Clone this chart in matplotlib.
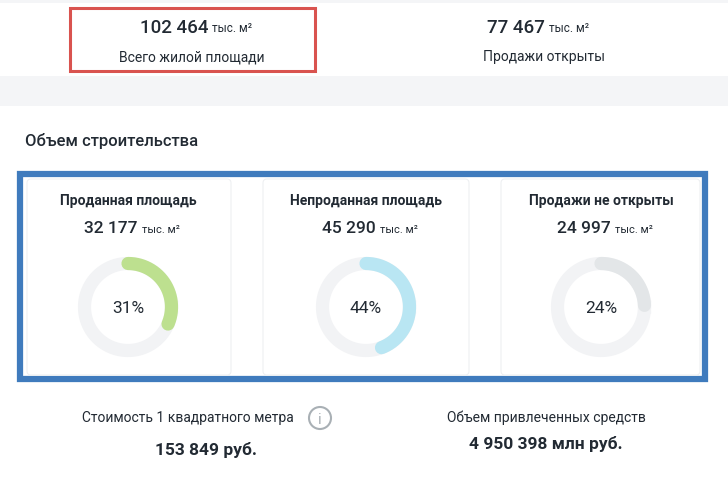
import matplotlib
matplotlib.use("Agg")
import matplotlib.pyplot as plt
from matplotlib.patches import Rectangle, FancyBboxPatch, Circle
import numpy as np

total_value = 102464
open_value = 77467
categories = ["Проданная площадь", "Непроданная площадь", "Продажи не открыты"]
values = [32177, 45290, 24997]
arc_colors = ["#bde08f", "#b9e6f3", "#e3e6e8"]
price_value = "153 849 руб."
funds_value = "4 950 398 млн руб."

def fmt(v):
    return f"{v:,}".replace(",", " ")

plt.rcParams["font.family"] = "Roboto"
fig = plt.figure(figsize=(7.28, 4.85), dpi=100)
ax = fig.add_axes([0, 0, 1, 1])
ax.set_xlim(0, 728); ax.set_ylim(485, 0); ax.axis("off")
dark = "#222a33"

ax.add_patch(Rectangle((0, 0), 728, 4, color="#f4f5f7", lw=0))
ax.add_patch(Rectangle((0, 77), 728, 30, color="#f4f5f7", lw=0))
ax.add_patch(Rectangle((70, 9), 245, 63, fill=False, ec="#d9534f", lw=2.2))

def value_unit(xc, y, v, size=13.5, usize=8.5):
    t = fmt(v)
    ax.text(xc + 20, y, t, ha="right", va="center", fontsize=size, color=dark, fontweight="medium")
    ax.text(xc + 24, y + 1, "тыс. м²", ha="left", va="center", fontsize=usize, color=dark)

value_unit(188, 28, total_value)
ax.text(192, 57, "Всего жилой площади", ha="center", va="center", fontsize=10, color=dark)
value_unit(525, 28, open_value)
ax.text(544, 57, "Продажи открыты", ha="center", va="center", fontsize=10, color=dark)

ax.text(25, 141, "Объем строительства", ha="left", va="center", fontsize=12, color=dark, fontweight="medium")

ax.add_patch(Rectangle((20, 175), 685, 205, fill=False, ec="#3f7bbd", lw=4.5))
for x0, x1 in [(27, 231), (263, 469), (501, 700)]:
    ax.add_patch(FancyBboxPatch((x0, 180), x1 - x0, 196, boxstyle="round,pad=0,rounding_size=4",
                                fc="white", ec="#eef0f2", lw=0.8))

centers = [128, 366, 601]
for cx, cat, v, col in zip(centers, categories, values, arc_colors):
    ax.text(cx, 201, cat, ha="center", va="center", fontsize=10, color=dark, fontweight="bold")
    value_unit(cx - 10, 229, v, size=12.5, usize=8)
    pct = v / total_value
    th = np.linspace(0, 2 * np.pi, 200)
    r = 43.5
    ax.plot(cx + r * np.cos(th), 308 + r * np.sin(th), color="#f2f3f5", lw=9.5)
    a = np.linspace(0, pct * 2 * np.pi, 200)
    ax.plot(cx + r * np.sin(a), 308 - r * np.cos(a), color=col, lw=9.5, solid_capstyle="round")
    ax.text(cx, 309, f"{round(pct*100)}%", ha="center", va="center", fontsize=12.5, color=dark)

ax.text(188, 418, "Стоимость 1 квадратного метра", ha="center", va="center", fontsize=10, color=dark)
ax.add_patch(Circle((320, 419), 11, fill=False, ec="#a9b0b5", lw=1.5))
ax.text(320, 420, "i", ha="center", va="center", fontsize=11, color="#a9b0b5")
ax.text(206, 450, price_value, ha="center", va="center", fontsize=12.5, color=dark, fontweight="bold")
ax.text(546, 418, "Объем привлеченных средств", ha="center", va="center", fontsize=10, color=dark)
ax.text(546, 444, funds_value, ha="center", va="center", fontsize=12.5, color=dark, fontweight="bold")

fig.savefig("out.png", dpi=100)
